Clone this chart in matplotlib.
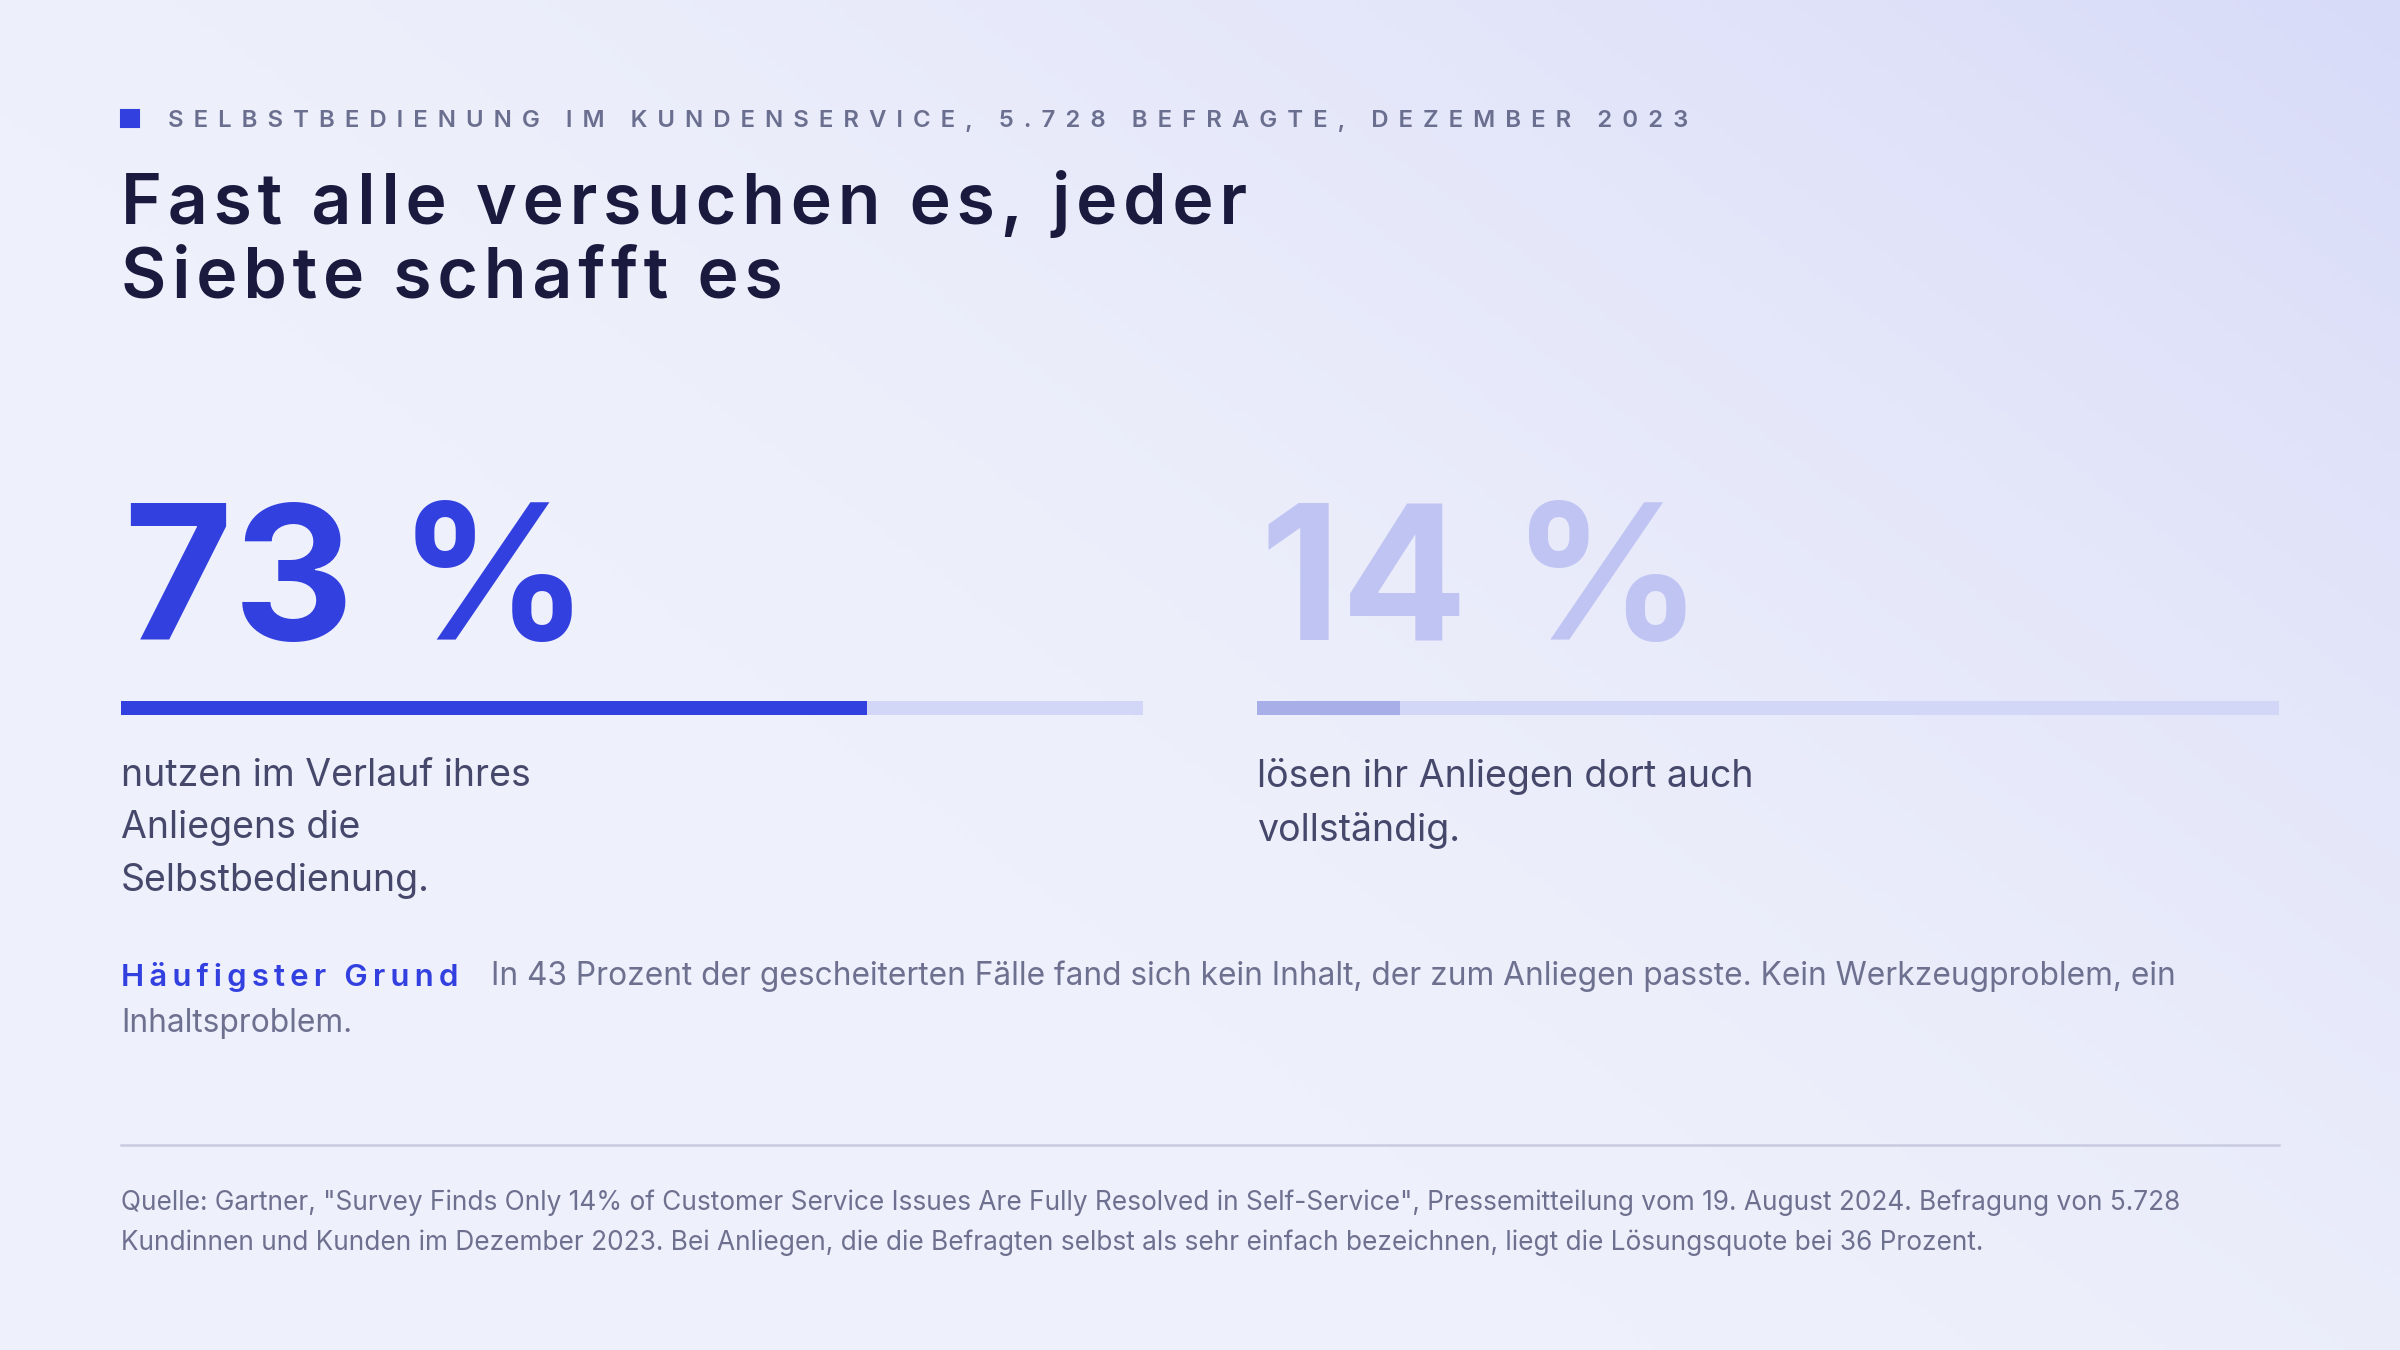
import numpy as np
import matplotlib.pyplot as plt

# data
kicker = "SELBSTBEDIENUNG IM KUNDENSERVICE, 5.728 BEFRAGTE, DEZEMBER 2023"
title_lines = ["Fast alle versuchen es, jeder", "Siebte schafft es"]
values = [73, 14]
value_labels = ["73 %", "14 %"]
captions = ["nutzen im Verlauf ihres\nAnliegens die\nSelbstbedienung.",
            "lösen ihr Anliegen dort auch\nvollständig."]
reason_head = "Häufigster Grund"
reason_text = ("In 43 Prozent der gescheiterten Fälle fand sich kein Inhalt, der zum Anliegen passte. "
               "Kein Werkzeugproblem, ein")
reason_text2 = "Inhaltsproblem."
source_lines = [
    'Quelle: Gartner, "Survey Finds Only 14% of Customer Service Issues Are Fully Resolved in Self-Service", '
    'Pressemitteilung vom 19. August 2024. Befragung von 5.728',
    "Kundinnen und Kunden im Dezember 2023. Bei Anliegen, die die Befragten selbst als sehr einfach "
    "bezeichnen, liegt die Lösungsquote bei 36 Prozent.",
]

W, H = 1568, 882
fig = plt.figure(figsize=(16, 9), dpi=150)
ax = fig.add_axes([0, 0, 1, 1])
ax.set_xlim(0, W)
ax.set_ylim(H, 0)
ax.axis("off")

# background gradient, lighter bottom-left, bluish top-right
yy, xx = np.mgrid[0:1:200j, 0:1:356j]
t = np.clip((xx * 0.8 + (1 - yy) * 0.6 - 0.55) / 0.85, 0, 1) ** 1.5
c0 = np.array([0xee, 0xf0, 0xfb]) / 255
c1 = np.array([0xd8, 0xdb, 0xf8]) / 255
img = c0 + (c1 - c0) * t[..., None]
ax.imshow(img, extent=[0, W, H, 0], aspect="auto", zorder=0)

font = ["Inter", "DejaVu Sans"]
blue = "#3340e0"


def spaced(s, gap):
    return gap.join(s)


ax.add_patch(plt.Rectangle((79, 72), 12, 11, color=blue, zorder=2))
ax.text(110, 79, spaced(kicker, "\u2009\u2009\u200a"), fontsize=11.5, color="#6b6f8f",
        family=font, fontweight="semibold", va="center")

for i, line in enumerate(title_lines):
    ax.text(79, 133 + i * 49, spaced(line, "\u200a"), fontsize=33.5, color="#1a1a3e",
            family=font, fontweight="semibold", va="center")

xs = [79, 821]
bar_w = 668
num_colors = [blue, "#c0c4f2"]
fill_colors = [blue, "#a8aee8"]
for x, v, lab, cap, nc, fc in zip(xs, values, value_labels, captions, num_colors, fill_colors):
    ax.text(x + 2, 418, lab, fontsize=90, color=nc, family=font, fontweight="bold", va="baseline")
    ax.add_patch(plt.Rectangle((x, 458), bar_w, 9, color="#d3d7f7", lw=0, zorder=2))
    ax.add_patch(plt.Rectangle((x, 458), bar_w * v / 100, 9, color=fc, lw=0, zorder=3))
    ax.text(x, 495, cap, fontsize=18, color="#45486a", family=font, va="top", linespacing=1.6)

ax.text(79, 638, spaced(reason_head, "\u2009"), fontsize=15, color=blue, family=font,
        fontweight="semibold", va="center")
ax.text(321, 638, reason_text, fontsize=15.2, color="#6e7090", family=font, va="center")
ax.text(79, 669, reason_text2, fontsize=15.2, color="#6e7090", family=font, va="center")

ax.plot([79, 1489], [748, 748], color="#c8cbe0", lw=1.2)
for i, line in enumerate(source_lines):
    ax.text(79, 786 + i * 26, line, fontsize=12.6, color="#6e7090", family=font, va="center")

fig.savefig("out.png", dpi=150)
